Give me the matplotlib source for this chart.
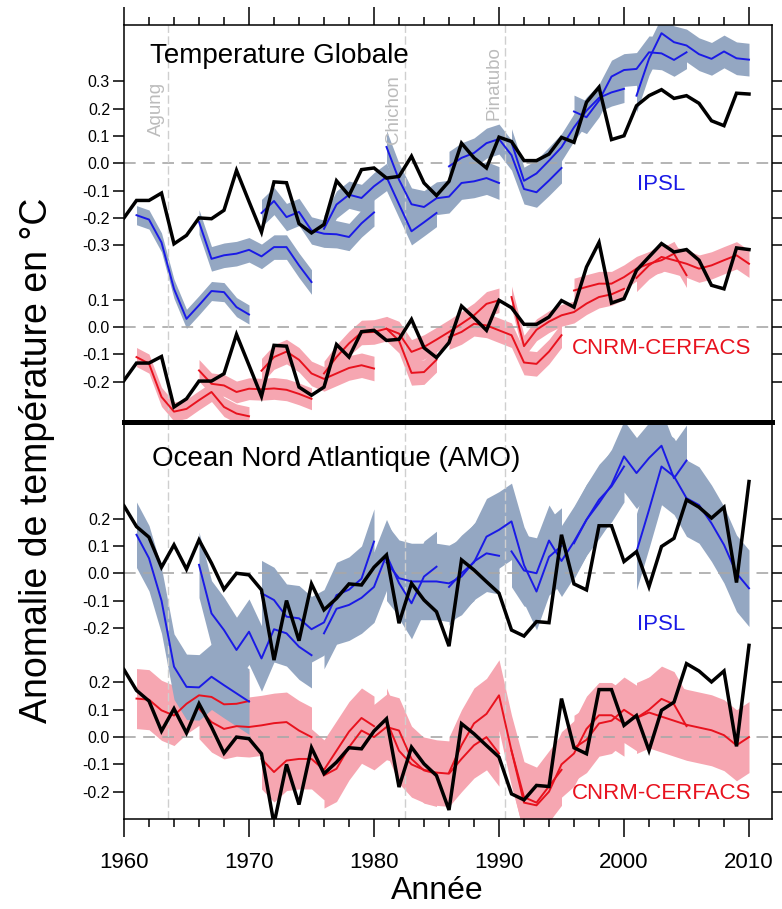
import numpy as np
import matplotlib.pyplot as plt
from matplotlib.ticker import MultipleLocator

plt.rcParams['font.family'] = ['Liberation Sans', 'DejaVu Sans']

# ---- données ----
years = np.arange(1960, 2011)
starts = [1961, 1966, 1971, 1976, 1981, 1986, 1991, 1996, 2001]
volcans = ['Agung', 'Chichon', 'Pinatubo']
volcan_years = [1963.5, 1982.5, 1990.5]

# température globale observée (vue par chaque modèle)
obs_glob_ipsl = [-0.20, -0.136, -0.136, -0.109, -0.295, -0.264, -0.20, -0.203, -0.172, -0.026,
                 -0.14, -0.252, -0.068, -0.071, -0.221, -0.255, -0.224, -0.064, -0.118, -0.023,
                 -0.017, -0.054, -0.048, 0.026, -0.072, -0.118, -0.066, 0.074, 0.02, -0.017,
                 0.096, 0.08, 0.01, 0.01, 0.034, 0.095, 0.077, 0.224, 0.279, 0.087,
                 0.101, 0.211, 0.248, 0.27, 0.238, 0.248, 0.22, 0.156, 0.138, 0.257, 0.254]
obs_glob_cnrm = [-0.196, -0.132, -0.132, -0.108, -0.293, -0.263, -0.198, -0.198, -0.171, -0.027,
                 -0.14, -0.254, -0.067, -0.07, -0.22, -0.25, -0.22, -0.064, -0.11, -0.017,
                 -0.012, -0.049, -0.045, 0.028, -0.076, -0.112, -0.057, 0.077, 0.034, -0.012,
                 0.098, 0.071, 0.01, 0.01, 0.037, 0.097, 0.073, 0.22, 0.31, 0.088,
                 0.104, 0.208, 0.257, 0.306, 0.275, 0.284, 0.245, 0.153, 0.14, 0.29, 0.284]
obs_amo = [0.247, 0.171, 0.132, 0.022, 0.104, 0.015, 0.122, 0.037, -0.059, 0.0,
           -0.006, -0.061, -0.318, -0.10, -0.247, -0.039, -0.134, -0.092, -0.039, -0.043,
           0.022, 0.067, -0.183, -0.037, -0.098, -0.141, -0.267, 0.049, 0.012, -0.031,
           -0.073, -0.208, -0.23, -0.177, -0.181, 0.141, -0.039, -0.061, 0.174, 0.174,
           0.043, 0.079, -0.049, 0.098, 0.128, 0.269, 0.242, 0.202, 0.242, -0.034, 0.336]

# prévisions décennales (moyenne d'ensemble), une liste par date de départ
ipsl_glob = [
    [-0.19, -0.206, -0.29, -0.46, -0.57, -0.52, -0.468, -0.472, -0.527, -0.554],
    [-0.215, -0.35, -0.337, -0.331, -0.317, -0.341, -0.307, -0.307, -0.374, -0.435],
    [-0.182, -0.138, -0.197, -0.178, -0.246, -0.258, -0.26, -0.27, -0.22, -0.18],
    [-0.24, -0.151, -0.115, -0.127, -0.084, -0.05, -0.15, -0.249, -0.216, -0.182],
    [0.06, -0.06, -0.15, -0.16, -0.128, -0.122, -0.072, -0.066, -0.054, -0.072],
    [-0.011, 0.02, 0.038, 0.074, 0.089, 0.03, -0.094, -0.106, -0.063, -0.017],
    [0.077, -0.064, -0.037, 0.01, 0.059, 0.132, 0.193, 0.24, 0.26, 0.273],
    [0.19, 0.169, 0.23, 0.318, 0.342, 0.346, 0.407, 0.403, 0.379, 0.407],
    [0.248, 0.383, 0.477, 0.444, 0.432, 0.40, 0.383, 0.41, 0.385, 0.38],
]
ipsl_glob_spread = [0.035, 0.045, 0.05, 0.05, 0.06, 0.055, 0.05, 0.06, 0.06]

cnrm_glob = [
    [-0.11, -0.134, -0.256, -0.31, -0.30, -0.268, -0.238, -0.293, -0.317, -0.327],
    [-0.159, -0.208, -0.214, -0.238, -0.226, -0.228, -0.225, -0.23, -0.245, -0.263],
    [-0.16, -0.11, -0.09, -0.12, -0.17, -0.19, -0.17, -0.15, -0.14, -0.152],
    [-0.17, -0.11, -0.06, -0.02, -0.018, -0.006, -0.05, -0.168, -0.165, -0.12],
    [-0.006, -0.024, -0.091, -0.073, -0.046, -0.018, 0.012, 0.043, 0.085, 0.098],
    [-0.037, -0.018, 0.012, 0.006, -0.012, -0.03, -0.13, -0.135, -0.09, -0.03],
    [0.11, -0.07, -0.01, 0.02, 0.043, 0.055, 0.086, 0.11, 0.12, 0.14],
    [0.134, 0.147, 0.159, 0.159, 0.183, 0.214, 0.232, 0.245, 0.269, 0.19],
    [0.18, 0.226, 0.257, 0.245, 0.232, 0.214, 0.226, 0.245, 0.263, 0.232],
]
cnrm_glob_spread = [0.035, 0.04, 0.045, 0.045, 0.045, 0.045, 0.04, 0.045, 0.05]

ipsl_amo = [
    [0.141, 0.055, -0.10, -0.342, -0.416, -0.418, -0.379, -0.41, -0.44, -0.47],
    [0.031, -0.147, -0.208, -0.281, -0.214, -0.312, -0.205, -0.22, -0.269, -0.30],
    [-0.073, -0.098, -0.159, -0.165, -0.205, -0.18, -0.08, -0.06, -0.02, 0.116],
    [-0.22, -0.13, -0.116, -0.09, -0.05, 0.067, -0.036, -0.11, -0.012, 0.024],
    [0.04, -0.018, -0.03, -0.03, -0.03, -0.037, -0.012, 0.043, 0.073, 0.064],
    [-0.05, 0.0, 0.04, 0.134, 0.159, 0.19, 0.03, -0.067, 0.06, 0.10],
    [0.08, 0.01, 0.0, 0.12, 0.045, 0.116, 0.196, 0.269, 0.318, 0.391],
    [0.11, 0.196, 0.257, 0.324, 0.428, 0.367, 0.422, 0.467, 0.348, 0.413],
    [0.079, 0.232, 0.391, 0.355, 0.275, 0.25, 0.183, 0.104, 0.0, -0.055],
]
ipsl_amo_spread = [0.12, 0.12, 0.12, 0.13, 0.14, 0.14, 0.13, 0.13, 0.14]

cnrm_amo = [
    [0.141, 0.137, 0.098, 0.079, 0.122, 0.153, 0.147, 0.12, 0.122, 0.132],
    [0.104, 0.055, 0.03, 0.04, 0.037, 0.043, 0.051, 0.055, 0.024, 0.0],
    [-0.08, -0.128, -0.086, -0.08, -0.08, -0.12, -0.05, 0.02, 0.07, 0.04],
    [-0.14, -0.116, -0.037, 0.024, 0.0, 0.037, 0.024, -0.08, -0.122, -0.134],
    [0.06, -0.05, -0.10, -0.12, -0.13, -0.134, -0.08, -0.03, 0.0, -0.06],
    [-0.13, -0.03, 0.05, 0.085, 0.153, -0.05, -0.22, -0.24, -0.18, -0.12],
    [-0.05, -0.24, -0.25, -0.20, -0.10, -0.06, 0.03, 0.08, 0.08, 0.05],
    [-0.04, -0.01, 0.05, 0.06, 0.10, 0.07, 0.10, 0.14, 0.12, 0.04],
    [0.07, 0.09, 0.075, 0.06, 0.045, 0.035, 0.025, 0.007, -0.03, 0.0],
]
cnrm_amo_spread = [0.11, 0.11, 0.11, 0.12, 0.12, 0.13, 0.12, 0.12, 0.13]

glob_ticks_ipsl = [0.3, 0.2, 0.1, 0.0, -0.1, -0.2, -0.3]
glob_ticks_cnrm = [0.1, 0.0, -0.1, -0.2]
amo_ticks_ipsl = [0.2, 0.1, 0.0, -0.1, -0.2]
amo_ticks_cnrm = [0.2, 0.1, 0.0, -0.1, -0.2]

# ---- style ----
BLUE = '#1a1ae6'
RED = '#e8121e'
GREY_BAND = '#94a7c2'
PINK_BAND = '#f6a6b1'
OFF = -0.6  # décalage vertical du bloc CNRM

W, H = 782, 909
fig = plt.figure(figsize=(W / 100, H / 100), dpi=100)
ax1 = fig.add_axes([124 / W, (H - 422) / H, 648 / W, 397 / H])
ax2 = fig.add_axes([124 / W, (H - 819) / H, 648 / W, 397 / H])


def draw_panel(ax, obs_i, obs_c, runs_i, spr_i, runs_c, spr_c):
    # enveloppes des ensembles
    for runs, spr, off, col in [(runs_c, spr_c, OFF, PINK_BAND), (runs_i, spr_i, 0.0, GREY_BAND)]:
        for s, run, w in zip(starts, runs, spr):
            yrs = np.arange(s, s + len(run))
            m = np.array(run) + off
            ax.fill_between(yrs, m - w, m + w, color=col, lw=0, zorder=1)
    # lignes de référence
    for y0 in (0.0, OFF):
        ax.axhline(y0, color='#a8a8a8', lw=1.2, ls=(0, (7, 4.5)), zorder=1.5)
    for xv in volcan_years:
        ax.axvline(xv, color='#cfcfcf', lw=1.0, ls=(0, (6, 2.5)), zorder=1.5)
    # moyennes d'ensemble
    for runs, off, col in [(runs_c, OFF, RED), (runs_i, 0.0, BLUE)]:
        for s, run in zip(starts, runs):
            yrs = np.arange(s, s + len(run))
            ax.plot(yrs, np.array(run) + off, color=col, lw=1.4, zorder=3)
    # observations
    ax.plot(years, np.array(obs_i), color='black', lw=2.5, zorder=4, solid_joinstyle='miter')
    ax.plot(years, np.array(obs_c) + OFF, color='black', lw=2.5, zorder=4, solid_joinstyle='miter')


draw_panel(ax1, obs_glob_ipsl, obs_glob_cnrm, ipsl_glob, ipsl_glob_spread, cnrm_glob, cnrm_glob_spread)
draw_panel(ax2, obs_amo, obs_amo, ipsl_amo, ipsl_amo_spread, cnrm_amo, cnrm_amo_spread)

ax1.set_ylim(-0.948, 0.507)
ax2.set_ylim(-0.900, 0.554)

for ax, ti, tc in [(ax1, glob_ticks_ipsl, glob_ticks_cnrm), (ax2, amo_ticks_ipsl, amo_ticks_cnrm)]:
    ax.set_xlim(1960, 2011.84)
    pos = list(ti) + [v + OFF for v in tc]
    labs = ['%.1f' % v for v in ti] + ['%.1f' % v for v in tc]
    ax.set_yticks(pos)
    ax.set_yticklabels(labs)
    ax.tick_params(axis='y', which='major', left=True, right=True, direction='out',
                   length=8, width=1.1, labelsize=11.5, pad=2)
    ax.xaxis.set_major_locator(MultipleLocator(10))
    ax.xaxis.set_minor_locator(MultipleLocator(2))
    for sp in ax.spines.values():
        sp.set_linewidth(1.1)

ax1.tick_params(axis='x', which='both', bottom=False, top=True, labelbottom=False,
                labeltop=False, direction='out', width=1.1)
ax1.tick_params(axis='x', which='major', length=13)
ax1.tick_params(axis='x', which='minor', length=6)
ax2.tick_params(axis='x', which='both', bottom=True, top=False, direction='out', width=1.1)
ax2.tick_params(axis='x', which='major', length=13, labelsize=16, pad=11)
ax2.tick_params(axis='x', which='minor', length=6)

# trait épais entre les deux panneaux
ax1.spines['bottom'].set_linewidth(3.6)
ax2.spines['top'].set_linewidth(3.6)

# textes
ax1.text(0.040, 0.904, 'Temperature Globale', transform=ax1.transAxes, fontsize=20,
         ha='left', va='baseline')
ax2.text(0.043, 0.889, 'Ocean Nord Atlantique (AMO)', transform=ax2.transAxes, fontsize=20,
         ha='left', va='baseline')
ax1.text(2003, -0.078, 'IPSL', color=BLUE, fontsize=16, ha='center', va='center', zorder=5)
ax1.text(2003, -0.68, 'CNRM-CERFACS', color=RED, fontsize=16, ha='center', va='center', zorder=5)
ax2.text(2003, -0.189, 'IPSL', color=BLUE, fontsize=16, ha='center', va='center', zorder=5)
ax2.text(2003, -0.807, 'CNRM-CERFACS', color=RED, fontsize=16, ha='center', va='center', zorder=5)

volc_y = [0.7875, 0.7875, 0.854]
for name, xv, yf in zip(volcans, volcan_years, volc_y):
    ax1.text(xv - 0.25, yf, name, transform=ax1.get_xaxis_transform(), rotation=90,
             color='#bcbcbc', fontsize=13.5, ha='right', va='center', zorder=5)

fig.text(37 / W, 1 - 460 / H, 'Anomalie de température en °C', rotation=90,
         fontsize=27, ha='center', va='center')
fig.text(437 / W, (H - 899) / H, 'Année', fontsize=23, ha='center', va='baseline')

fig.savefig('out.png', dpi=100)
